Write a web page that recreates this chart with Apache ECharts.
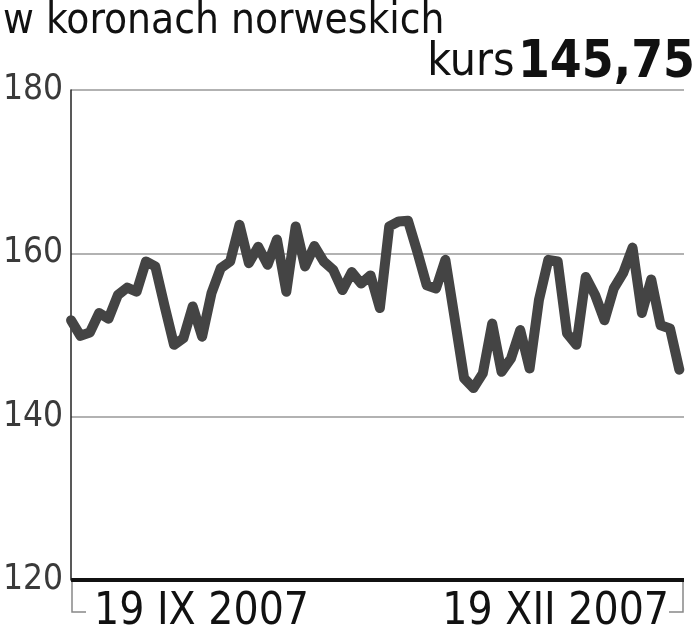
<!DOCTYPE html>
<html>
<head>
<meta charset="utf-8">
<script src="https://cdn.jsdelivr.net/npm/echarts@6/dist/echarts.min.js"></script>
<style>html,body{margin:0;padding:0;background:#fff;}#c{width:699px;height:640px;}</style>
</head>
<body>
<div id="c"></div>
<script>
const titleText = 'w koronach norweskich';
const kursLabel = 'kurs';
const kursValue = '145,75';
const dateLabels = ['19 IX 2007', '19 XII 2007'];
const yTicks = [120, 140, 160, 180];
const values = [
  151.8, 149.9, 150.3, 152.7, 152.0, 154.9, 155.8, 155.3, 159.0, 158.4,
  153.5, 148.8, 149.6, 153.5, 149.8, 155.1, 158.2, 159.0, 163.5, 158.8,
  160.8, 158.6, 161.7, 155.3, 163.3, 158.4, 160.9, 159.0, 158.0, 155.5,
  157.7, 156.3, 157.3, 153.3, 163.3, 163.9, 164.0, 160.2, 156.1, 155.7,
  159.2, 152.0, 144.7, 143.5, 145.3, 151.4, 145.5, 147.1, 150.6, 145.9,
  154.3, 159.2, 159.0, 150.2, 148.8, 157.1, 154.9, 151.8, 155.7, 157.6,
  160.7, 152.7, 156.8, 151.2, 150.8, 145.75
];
const FONT = '"Liberation Sans Narrow","DejaVu Sans Condensed","Roboto",sans-serif';
const chart = echarts.init(document.getElementById('c'), null, {renderer: 'canvas'});
chart.setOption({
  animation: false,
  backgroundColor: '#fff',
  grid: {left: 71, right: 15, top: 90, bottom: 60, containLabel: false},
  xAxis: {
    type: 'value', min: 0, max: values.length - 0.5,
    axisLine: {show: false}, axisTick: {show: false}, axisLabel: {show: false}, splitLine: {show: false}
  },
  yAxis: {
    type: 'value', min: yTicks[0], max: yTicks[yTicks.length - 1], interval: 20,
    axisLine: {show: true, onZero: false, lineStyle: {color: '#222', width: 1.5}},
    axisTick: {show: false},
    axisLabel: {color: '#3a3a3a', fontFamily: FONT, fontSize: 35, fontWeight: 'lighter', margin: 8, verticalAlign: 'middle', padding: [6, 0, 0, 0]},
    splitLine: {show: true, lineStyle: {color: '#999', width: 1.5}}
  },
  series: [
    {
      type: 'line',
      data: values.map((v, i) => [i, v]),
      symbol: 'none',
      lineStyle: {color: '#444', width: 10, join: 'round', cap: 'round'},
      z: 3
    },
    {
      type: 'line',
      data: [],
      markLine: {
        silent: true, symbol: 'none', label: {show: false},
        lineStyle: {color: '#111', width: 4, type: 'solid'},
        data: [{yAxis: yTicks[0]}]
      }
    }
  ],
  graphic: [
    {type: 'text', left: 3, top: 1, style: {text: titleText, font: '42px ' + FONT, fill: '#111'}},
    {type: 'text', right: 4, top: 38, style: {text: '{a|' + kursLabel + '} {b|' + kursValue + '}', rich: {
      a: {font: '46px ' + FONT, fill: '#111'},
      b: {font: 'bold 51px ' + FONT, fill: '#111'}
    }}},
    {type: 'polyline', shape: {points: [[72, 580], [72, 612], [86, 612]]}, style: {stroke: '#888', lineWidth: 1.5, fill: null}},
    {type: 'polyline', shape: {points: [[683, 580], [683, 612], [669, 612]]}, style: {stroke: '#888', lineWidth: 1.5, fill: null}},
    {type: 'text', left: 94, top: 591, style: {text: dateLabels[0], font: '44px ' + FONT, fill: '#111'}},
    {type: 'text', right: 30, top: 591, style: {text: dateLabels[1], font: '44px ' + FONT, fill: '#111'}}
  ]
});
</script>
</body>
</html>
